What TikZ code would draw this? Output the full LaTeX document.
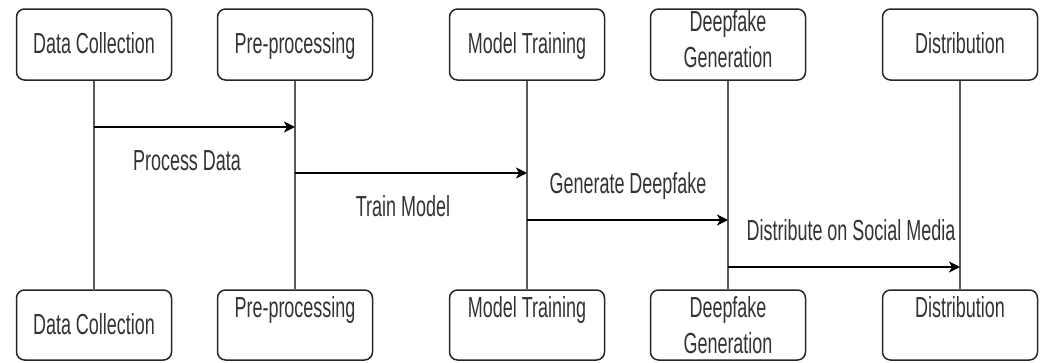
\documentclass[tikz,border=0pt]{standalone}
\usepackage{fontspec}
\setmainfont{Liberation Sans}[FakeStretch=0.62]
\usetikzlibrary{arrows.meta}
\begin{document}
\begin{tikzpicture}[x=1pt,y=-1pt,
 box/.style={draw=black!85, line width=1.5pt, rounded corners=8pt, minimum width=155pt, minimum height=71pt, inner sep=0pt},
 boxb/.style={box, minimum height=70pt},
 txt/.style={anchor=base, inner sep=0pt, text=black!80, font=\fontsize{29}{36}\selectfont},
 life/.style={draw=black!65, line width=1.5pt},
 msg/.style={draw=black, line width=2pt, -{Stealth[length=11pt,width=11pt,inset=3pt]}}]
\useasboundingbox (0,0) rectangle (1043,362);
% top boxes
\node[box] (dc1) at (94,44.5) {};
\node[box] (pp1) at (295,44.5) {};
\node[box] (mt1) at (527,44.5) {};
\node[box] (dg1) at (728,44.5) {};
\node[box] (di1) at (960,44.5) {};
% bottom boxes
\node[boxb] (dc2) at (94,325) {};
\node[boxb] (pp2) at (295,325) {};
\node[boxb] (mt2) at (527,325) {};
\node[boxb] (dg2) at (728,325) {};
\node[boxb] (di2) at (960,325) {};
% box texts
\node[txt] (dc1t) at (94,53) {Data Collection};
\node[txt] (pp1t) at (295,53) {Pre-processing};
\node[txt] (mt1t) at (527,53) {Model Training};
\node[txt] (dg1ta) at (728,31) {Deepfake};
\node[txt] (dg1tb) at (728,67) {Generation};
\node[txt] (di1t) at (960,53) {Distribution};
\node[txt] (dc2t) at (94,334) {Data Collection};
\node[txt] (pp2t) at (295,317) {Pre-processing};
\node[txt] (mt2t) at (527,317) {Model Training};
\node[txt] (dg2ta) at (728,317) {Deepfake};
\node[txt] (dg2tb) at (728,353) {Generation};
\node[txt] (di2t) at (960,317) {Distribution};
% lifelines
\draw[life] (dc1) -- (dc2);
\draw[life] (pp1) -- (pp2);
\draw[life] (mt1) -- (mt2);
\draw[life] (dg1) -- (dg2);
\draw[life] (di1) -- (di2);
% messages
\draw[msg] (dc1.south |- 0,127) -- (pp1.south |- 0,127);
\draw[msg] (pp1.south |- 0,173) -- (mt1.south |- 0,173);
\draw[msg] (mt1.south |- 0,220) -- (dg1.south |- 0,220);
\draw[msg] (dg1.south |- 0,267) -- (di1.south |- 0,267);
% message labels
\node[txt] (l1) at (187,170) {Process Data};
\node[txt] (l2) at (403,216) {Train Model};
\node[txt] (l3) at (628,193) {Generate Deepfake};
\node[txt] (l4) at (851,240) {Distribute on Social Media};
\end{tikzpicture}
\end{document}
